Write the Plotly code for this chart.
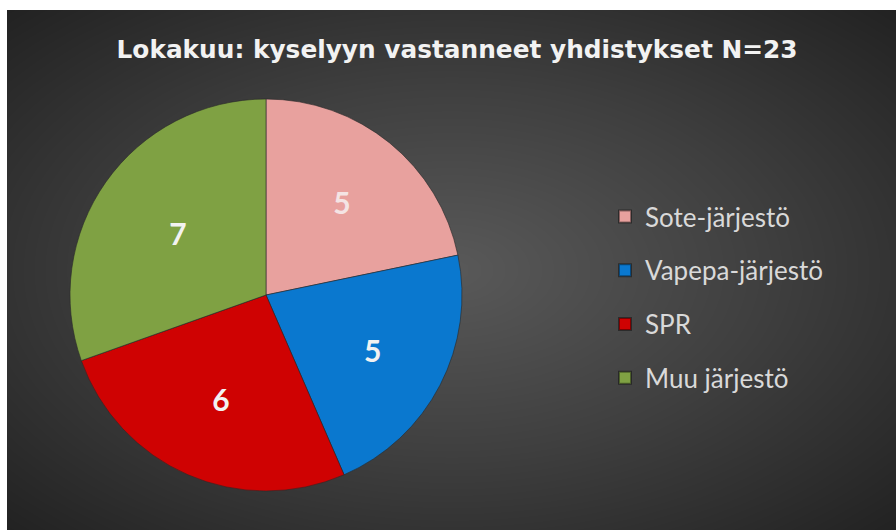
import numpy as np
import plotly.graph_objects as go

# ---- data ----
categories = ["Sote-järjestö", "Vapepa-järjestö", "SPR", "Muu järjestö"]
counts = [5, 5, 6, 7]
title_text = "Lokakuu: kyselyyn vastanneet yhdistykset N=23"

# ---- styles ----
slice_colors = ["#E8A19E", "#0A78CF", "#CF0202", "#7FA143"]
label_colors = ["#F4E4E4", "#F2F2F2", "#F2F2F2", "#F2F2F2"]

W, H = 896, 530
fig = go.Figure()

# radial gradient background (styling only) as a heatmap on a hidden axis
nx, ny = 90, 54
gx = np.linspace(0, 1, nx)
gy = np.linspace(0, 1, ny)
X, Y = np.meshgrid(gx, gy)
d = np.sqrt(((X - 0.5) / 0.5) ** 2 + ((Y - 0.5) / 0.5) ** 2) / np.sqrt(2)
bg = np.clip(d, 0, 1)
fig.add_trace(go.Heatmap(
    x=gx, y=gy, z=bg, zmin=0, zmax=1, zsmooth="best",
    colorscale=[[0, "#595959"], [0.5, "#3f3f3f"], [1, "#222222"]],
    showscale=False, hoverinfo="skip", xaxis="x", yaxis="y",
))

cx, cy, r = 266, 295, 196
fig.add_trace(go.Pie(
    labels=categories, values=counts, sort=False, direction="clockwise",
    rotation=0, showlegend=False,
    marker=dict(colors=slice_colors, line=dict(color="rgba(40,40,40,0.6)", width=1)),
    texttemplate="<b>%{value}</b>", textposition="inside", insidetextorientation="horizontal",
    textfont=dict(family="Lato", size=30, color=label_colors),
    domain=dict(x=[(cx - r) / W, (cx + r) / W], y=[(H - cy - r) / H, (H - cy + r) / H]),
    hoverinfo="label+value",
))

for name, col in zip(categories, slice_colors):
    fig.add_trace(go.Scatter(
        x=[None], y=[None], mode="markers", name=name, legendgroup=name,
        marker=dict(symbol="square", size=14, color=col,
                    line=dict(color="rgba(0,0,0,0.4)", width=1)),
        xaxis="x2", yaxis="y2",
    ))

fig.update_layout(
    width=W, height=H,
    margin=dict(l=0, r=0, t=0, b=0),
    paper_bgcolor="white",
    plot_bgcolor="rgba(0,0,0,0)",
    xaxis=dict(domain=[7 / W, 1], range=[0, 1], visible=False, fixedrange=True),
    yaxis=dict(domain=[0, (H - 10) / H], range=[0, 1], visible=False, fixedrange=True),
    xaxis2=dict(domain=[0, 1], visible=False, overlaying="x"),
    yaxis2=dict(domain=[0, 1], visible=False, overlaying="y"),
    title=dict(text="<b>" + title_text + "</b>", x=457 / W, xanchor="center",
               y=1 - 49 / H, yanchor="middle",
               font=dict(family="DejaVu Sans", size=24.8, color="#F2F2F2")),
    legend=dict(x=605 / W, y=1 - 193 / H, xanchor="left", yanchor="top",
                bgcolor="rgba(0,0,0,0)", tracegroupgap=17,
                font=dict(family="Lato", size=26, color="#D9D9D9"),
                itemsizing="constant"),
    showlegend=True,
)

fig.write_html("out.html", config={"displayModeBar": False},
               post_script="document.body.style.margin='0';")
